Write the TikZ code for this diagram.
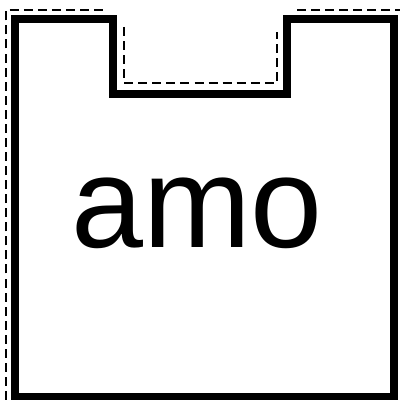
\documentclass[tikz,border=0pt]{standalone}
\usepackage{fontspec}
\setmainfont{Liberation Sans}
\usetikzlibrary{positioning}

\begin{document}
\begin{tikzpicture}[x=0.025cm,y=-0.025cm,
  outline/.style={line width=5.7pt,line join=miter},
  guide/.style={line width=1pt,dash pattern=on 6.4pt off 3.6pt}]
  \useasboundingbox (0,0) rectangle (400,400);
  % thick outline with the notch on top
  \draw[outline] (15,397) -- (15,19) -- (113,19) -- (113,94) -- (287,94)
    -- (287,19) -- (394,19) -- (394,397) -- cycle;
  % dashed guide lines
  \draw[guide] (6,400) -- (6,10) -- (105,10);
  \draw[guide] (124,27) -- (124,83) -- (277,83) -- (277,32);
  \draw[guide] (297,10) -- (400,10);
  \node[inner sep=0pt,anchor=base,font=\fontsize{92}{92}\selectfont] (word) at (197,247) {amo};
\end{tikzpicture}
\end{document}
